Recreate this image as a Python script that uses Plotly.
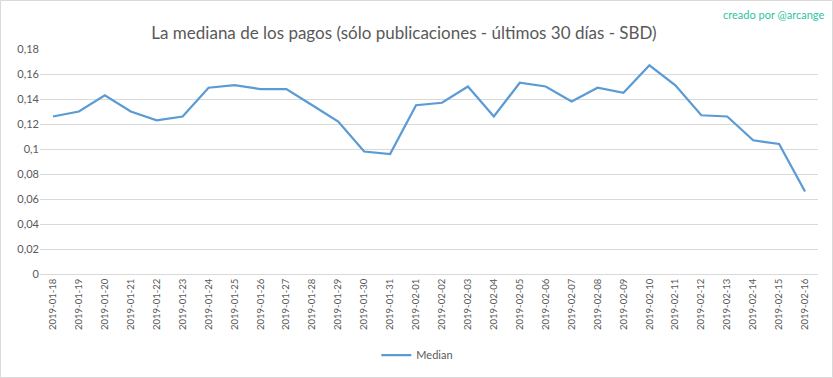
import plotly.graph_objects as go

dates = ["2019-01-18", "2019-01-19", "2019-01-20", "2019-01-21", "2019-01-22", "2019-01-23",
         "2019-01-24", "2019-01-25", "2019-01-26", "2019-01-27", "2019-01-28", "2019-01-29",
         "2019-01-30", "2019-01-31", "2019-02-01", "2019-02-02", "2019-02-03", "2019-02-04",
         "2019-02-05", "2019-02-06", "2019-02-07", "2019-02-08", "2019-02-09", "2019-02-10",
         "2019-02-11", "2019-02-12", "2019-02-13", "2019-02-14", "2019-02-15", "2019-02-16"]
median = [0.126, 0.130, 0.143, 0.130, 0.123, 0.126,
          0.149, 0.151, 0.148, 0.148, 0.135, 0.122,
          0.098, 0.096, 0.135, 0.137, 0.150, 0.126,
          0.153, 0.150, 0.138, 0.149, 0.145, 0.167,
          0.151, 0.127, 0.126, 0.107, 0.104, 0.066]

W, H = 833, 378
ml, mr, mt, mb = 40, 15, 49, 104
pw, ph = W - ml - mr, H - mt - mb

fig = go.Figure()
fig.add_trace(go.Scatter(x=dates, y=median, mode="lines", name="Median",
                         line=dict(color="#5b9bd5", width=2.25)))

font = "Lato, Carlito, Calibri, 'Open Sans', sans-serif"
fig.update_layout(
    width=W, height=H,
    margin=dict(l=ml, r=mr, t=mt, b=mb, autoexpand=False),
    paper_bgcolor="white", plot_bgcolor="white",
    separators=",.",
    font=dict(family=font, color="#595959", size=11),
    title=dict(text="La mediana de los pagos (sólo publicaciones - últimos 30 días - SBD)",
               x=0.485, xanchor="center", y=1 - 33 / H, yanchor="middle",
               font=dict(size=17, color="#595959", family=font)),
    xaxis=dict(type="category", range=[-0.5, 29.5], tickangle=-90, automargin=False,
               tickfont=dict(size=9.5, color="#595959"), showgrid=False,
               showline=True, linecolor="#d9d9d9", ticks="", ticklen=0),
    yaxis=dict(range=[0, 0.18], dtick=0.02, tick0=0, showgrid=True, gridcolor="#d9d9d9",
               zeroline=True, zerolinecolor="#d9d9d9", showline=False, automargin=False,
               tickfont=dict(size=11, color="#595959"), ticks="", ticklen=0),
    showlegend=True,
    legend=dict(orientation="h", x=0.485, xanchor="center", y=-(355 - (H - mb)) / ph,
                yanchor="middle", font=dict(size=11, color="#595959")),
    annotations=[dict(text="creado por @arcange", xref="paper", yref="paper",
                      x=(826 - ml) / pw, y=1 + (mt - 14) / ph, xanchor="right",
                      yanchor="middle", showarrow=False,
                      font=dict(size=11, color="#2ec4a0", family=font))],
    shapes=[dict(type="rect", xref="paper", yref="paper",
                 x0=(0.5 - ml) / pw, x1=(W - 0.5 - ml) / pw,
                 y0=-(mb - 0.5) / ph, y1=1 + (mt - 0.5) / ph,
                 line=dict(color="#d9d9d9", width=1))],
)

fig.write_html("out.html", config={"displayModeBar": False},
               post_script="document.body.style.margin='0';")
